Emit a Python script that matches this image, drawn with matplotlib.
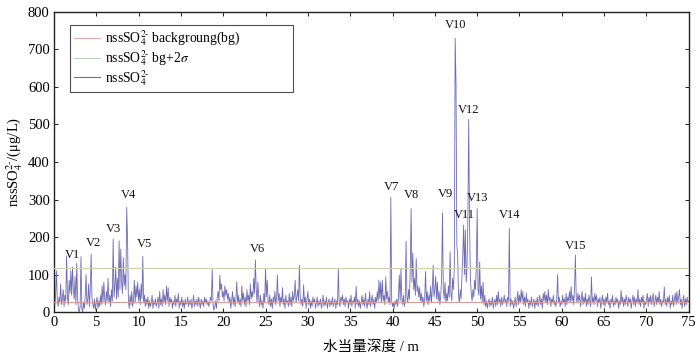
import numpy as np
import matplotlib
matplotlib.use("Agg")
import matplotlib.pyplot as plt
from matplotlib.lines import Line2D

plt.rcParams['font.family'] = ['Liberation Serif', 'Noto Sans CJK SC', 'DejaVu Sans']
plt.rcParams['mathtext.fontset'] = 'stix'

# ---------------- data ----------------
depth_start = 0.0
depth_step = 0.1

nss_0_5 = [60, 20, 45, 110, 30, 15, 40, 25, 75, 20,
           35, 60, 15, 45, 30, 150, 40, 20, 85, 50,
           110, 45, 120, 60, 35, 95, 20, 130, 40, 5,
           0, 15, 148, 10, 0, 25, 10, 45, 100, 20,
           30, 75, 15, 60, 155, 40, 20, 10, 35, 5]
nss_5_10 = [25, 40, 10, 30, 15, 45, 20, 70, 25, 80,
            35, 20, 55, 30, 90, 25, 45, 15, 60, 30,
            194, 40, 70, 120, 35, 90, 40, 190, 60, 168,
            80, 50, 145, 70, 100, 60, 279, 195, 30, 10,
            45, 20, 55, 15, 30, 85, 25, 70, 40, 80]
nss_10_15 = [30, 60, 20, 75, 35, 149, 25, 45, 15, 35,
             20, 40, 10, 30, 15, 25, 45, 10, 30, 20,
             35, 15, 25, 40, 10, 55, 20, 35, 15, 60,
             25, 45, 20, 70, 30, 65, 15, 40, 25, 35,
             10, 30, 20, 45, 15, 35, 25, 50, 10, 30]
nss_15_20 = [20, 40, 15, 30, 10, 35, 20, 25, 40, 15,
             30, 20, 35, 10, 25, 45, 15, 30, 20, 35,
             15, 40, 25, 10, 35, 20, 30, 15, 40, 25,
             35, 20, 30, 15, 25, 40, 30, 114, 20, 5,
             15, 30, 10, 40, 55, 30, 99, 60, 75, 40]
nss_20_25 = [55, 30, 70, 45, 60, 35, 50, 25, 40, 10,
             30, 55, 20, 40, 15, 35, 80, 25, 45, 20,
             35, 15, 70, 30, 50, 20, 40, 15, 60, 30,
             45, 20, 75, 35, 55, 40, 90, 50, 139, 60,
             25, 80, 35, 15, 45, 20, 30, 10, 50, 25]
nss_25_30 = [116, 40, 85, 30, 20, 45, 15, 35, 10, 40,
             25, 55, 20, 35, 99, 30, 50, 15, 40, 25,
             65, 20, 35, 10, 45, 25, 30, 15, 50, 20,
             40, 15, 55, 30, 45, 85, 25, 40, 60, 30,
             125, 40, 20, 35, 15, 73, 25, 40, 10, 35]
nss_30_35 = [55, 20, 35, 10, 30, 15, 40, 25, 35, 10,
             25, 40, 15, 30, 20, 35, 10, 25, 45, 15,
             30, 20, 40, 10, 25, 35, 15, 30, 20, 40,
             15, 25, 35, 10, 30, 20, 116, 25, 15, 40,
             30, 45, 20, 35, 15, 40, 25, 30, 10, 35]
nss_35_40 = [20, 45, 15, 30, 25, 40, 10, 69, 20, 35,
             15, 30, 10, 25, 45, 20, 35, 15, 50, 25,
             10, 35, 20, 55, 15, 30, 45, 20, 35, 10,
             40, 25, 55, 30, 85, 35, 80, 25, 85, 30,
             45, 20, 94, 35, 55, 25, 40, 20, 306, 30]
nss_40_45 = [15, 25, 10, 30, 20, 35, 15, 40, 99, 30,
             116, 35, 20, 45, 15, 30, 189, 40, 25, 60,
             35, 120, 276, 80, 158, 60, 90, 45, 143, 55,
             70, 40, 65, 30, 50, 25, 40, 15, 35, 108,
             30, 55, 20, 45, 30, 70, 25, 60, 125, 40]
nss_45_50 = [60, 95, 35, 80, 30, 55, 20, 45, 90, 265,
             60, 35, 80, 25, 50, 30, 70, 40, 161, 50,
             30, 90, 60, 120, 730, 610, 180, 148, 40, 25,
             60, 35, 90, 150, 232, 100, 219, 80, 120, 245,
             514, 240, 90, 50, 30, 60, 40, 85, 60, 120]
nss_50_55 = [276, 60, 45, 134, 35, 70, 25, 80, 20, 45,
             15, 30, 10, 25, 35, 15, 30, 20, 40, 10,
             25, 35, 15, 45, 20, 55, 25, 35, 15, 40,
             20, 30, 45, 25, 35, 15, 40, 30, 223, 15,
             35, 20, 30, 10, 25, 40, 15, 30, 55, 20]
nss_55_60 = [45, 25, 60, 30, 55, 20, 40, 15, 50, 25,
             35, 10, 30, 20, 40, 15, 25, 35, 10, 30,
             20, 40, 15, 30, 45, 20, 35, 10, 50, 30,
             55, 25, 45, 20, 60, 30, 40, 15, 35, 25,
             45, 20, 30, 15, 35, 100, 25, 40, 15, 30]
nss_60_65 = [20, 45, 25, 35, 15, 50, 20, 40, 30, 55,
             25, 68, 30, 45, 20, 60, 152, 40, 25, 50,
             30, 45, 15, 35, 55, 20, 40, 25, 50, 15,
             35, 20, 45, 30, 15, 94, 25, 40, 20, 50,
             30, 45, 15, 35, 25, 40, 10, 30, 45, 20]
nss_65_70 = [35, 15, 40, 25, 50, 20, 30, 10, 35, 25,
             45, 15, 30, 20, 40, 25, 35, 10, 30, 20,
             58, 25, 40, 15, 35, 20, 45, 30, 15, 40,
             25, 35, 10, 30, 45, 20, 40, 15, 35, 25,
             60, 20, 35, 15, 40, 25, 45, 10, 30, 20]
nss_70_75 = [35, 50, 15, 40, 25, 45, 20, 35, 50, 15,
             30, 45, 20, 40, 25, 55, 20, 35, 15, 30,
             25, 67, 20, 35, 15, 40, 25, 45, 10, 30,
             20, 45, 15, 35, 50, 20, 55, 25, 40, 60,
             20, 35, 10, 30, 45, 15, 35, 20, 40, 25, 30]

background = 28.0      # nssSO4 background (bg)
bg_2sigma = 117.0      # bg + 2 sigma

peak_names = ['V1', 'V2', 'V3', 'V4', 'V5', 'V6', 'V7', 'V8', 'V9', 'V10',
              'V11', 'V12', 'V13', 'V14', 'V15']
label_depth = [2.2, 4.7, 7.0, 8.85, 10.65, 24.0, 39.9, 42.2, 46.2, 47.5,
               48.45, 49.0, 50.1, 53.8, 61.6]
label_value = [152, 183, 222, 312, 181, 167, 334, 312, 315, 765,
               259, 539, 305, 260, 176]

x_ticks = list(range(0, 76, 5))
y_ticks = list(range(0, 801, 100))

# ---------------- build ----------------
nss = np.array(nss_0_5 + nss_5_10 + nss_10_15 + nss_15_20 + nss_20_25 +
               nss_25_30 + nss_30_35 + nss_35_40 + nss_40_45 + nss_45_50 +
               nss_50_55 + nss_55_60 + nss_60_65 + nss_65_70 + nss_70_75, dtype=float)
depth = depth_start + depth_step * np.arange(len(nss))

fig = plt.figure(figsize=(7.0, 3.6), dpi=100)
ax = fig.add_axes([0.077, 0.133, 0.907, 0.834])

ax.axhline(background, color='#d99a9a', lw=0.8, zorder=3)
ax.axhline(bg_2sigma, color='#cfd0b0', lw=0.8, zorder=3)
ax.plot(depth, nss, color='#6e6ab4', lw=0.6, zorder=2)

for name, xd, yv in zip(peak_names, label_depth, label_value):
    ax.text(xd, yv, name, ha='center', va='center', fontsize=9, color='#111111')

ax.set_xlim(0, 75)
ax.set_ylim(0, 800)
ax.set_xticks(x_ticks)
ax.set_yticks(y_ticks)
ax.tick_params(direction='in', top=True, right=True, length=3, width=0.6,
               labelsize=10.5, pad=3)
for s in ax.spines.values():
    s.set_linewidth(1.0)
    s.set_color('#222222')

ax.set_xlabel('水当量深度 / m', fontsize=10.5, labelpad=8)
ax.set_ylabel(r'nssSO$_4^{2\text{-}}$/(μg/L)', fontsize=10.5, labelpad=2)

h_bg = Line2D([], [], color='#e0a8a8', lw=0.8)
h_2s = Line2D([], [], color='#b8cfc0', lw=0.8)
h_main = Line2D([], [], color='#707088', lw=0.8)
leg_w = (293 - 70) / 635.0
leg_h = (81 - 25) / 300.0
leg_top = (312 - 25) / 300.0
leg = ax.legend([h_bg, h_2s, h_main],
                [r'nssSO$_4^{2\text{-}}$ backgroung(bg)',
                 r'nssSO$_4^{2\text{-}}$ bg+2$\sigma$',
                 r'nssSO$_4^{2\text{-}}$'],
                loc='upper left', bbox_to_anchor=(0.025, leg_top - leg_h, leg_w, leg_h),
                mode='expand', borderaxespad=0,
                fontsize=9.8, frameon=True, fancybox=False, handlelength=1.9,
                handletextpad=0.4, labelspacing=0.0, borderpad=0.3)
leg.get_frame().set_edgecolor('#222222')
leg.get_frame().set_linewidth(0.8)

fig.savefig('out.png', dpi=100)
